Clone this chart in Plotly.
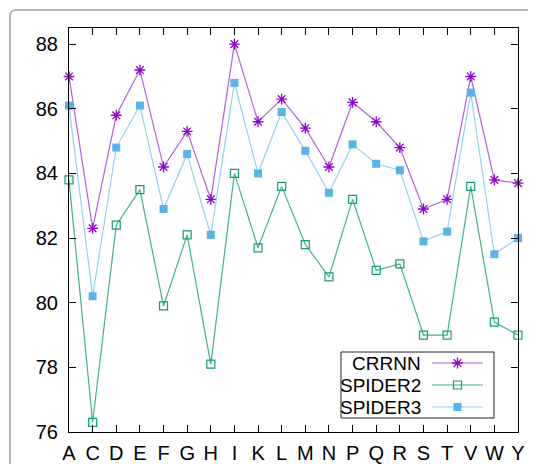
import plotly.graph_objects as go

categories = ["A", "C", "D", "E", "F", "G", "H", "I", "K", "L",
              "M", "N", "P", "Q", "R", "S", "T", "V", "W", "Y"]
crrnn = [87.0, 82.3, 85.8, 87.2, 84.2, 85.3, 83.2, 88.0, 85.6, 86.3,
         85.4, 84.2, 86.2, 85.6, 84.8, 82.9, 83.2, 87.0, 83.8, 83.7]
spider2 = [83.8, 76.3, 82.4, 83.5, 79.9, 82.1, 78.1, 84.0, 81.7, 83.6,
           81.8, 80.8, 83.2, 81.0, 81.2, 79.0, 79.0, 83.6, 79.4, 79.0]
spider3 = [86.1, 80.2, 84.8, 86.1, 82.9, 84.6, 82.1, 86.8, 84.0, 85.9,
           84.7, 83.4, 84.9, 84.3, 84.1, 81.9, 82.2, 86.5, 81.5, 82.0]
y_ticks = [76, 78, 80, 82, 84, 86, 88]
series_names = ["CRRNN", "SPIDER2", "SPIDER3"]

# page has an 8px body margin, so the figure is a bit smaller than the window
OFF = 8
W, H = 536 - OFF, 464 - OFF
PX0, PX1, PY0, PY1 = 69, 518, 28, 432   # plot area in window pixels
L, T = PX0 - OFF, PY0 - OFF
R, B = W - (PX1 - OFF), H - (PY1 - OFF)

styles = [
    dict(line=dict(color="#b060e0", width=1.2),
         marker=dict(symbol="asterisk-open", size=9, color="#9400d3",
                     line=dict(color="#9400d3", width=1.3))),
    dict(line=dict(color="#40b28e", width=1.2),
         marker=dict(symbol="square-open", size=8, color="#119e73",
                     line=dict(color="#119e73", width=1.2))),
    dict(line=dict(color="#92cff0", width=1.2),
         marker=dict(symbol="square", size=8, color="#56b4e9")),
]

fig = go.Figure()
for name, vals, st in zip(series_names, [crrnn, spider2, spider3], styles):
    fig.add_trace(go.Scatter(x=categories, y=vals, name=name,
                             mode="lines+markers", cliponaxis=False,
                             showlegend=False, **st))

# custom gnuplot-style key (text right-aligned, sample on the right),
# drawn on an overlay axis measured in window pixels
key_box = dict(x0=341, x1=494, y0=352, y1=418)
key_rows = [363, 385, 407]
key_text_right = 423
key_line = (432, 483)
fig.add_shape(type="rect", xref="x2", yref="y2", layer="below",
              x0=key_box["x0"], x1=key_box["x1"],
              y0=key_box["y0"], y1=key_box["y1"],
              line=dict(color="#222", width=1), fillcolor="white")
for name, yy, st in zip(series_names, key_rows, styles):
    fig.add_annotation(x=key_text_right, y=yy, xref="x2", yref="y2",
                       text=name, showarrow=False, xanchor="right",
                       yanchor="middle", font=dict(size=19))
    fig.add_trace(go.Scatter(x=[key_line[0], key_line[1]], y=[yy, yy],
                             xaxis="x2", yaxis="y2", mode="lines",
                             line=st["line"], showlegend=False,
                             hoverinfo="skip"))
    fig.add_trace(go.Scatter(x=[(key_line[0] + key_line[1]) / 2], y=[yy],
                             xaxis="x2", yaxis="y2", mode="markers",
                             marker=st["marker"], showlegend=False,
                             hoverinfo="skip"))


def paper_x(p):
    return (p - PX0) / (PX1 - PX0)


def paper_y(p):
    return (PY1 - p) / (PY1 - PY0)


# card frame (rounded top-left corner, running off the right and bottom)
r = 6
path = (f"M {paper_x(10)},{paper_y(490)} L {paper_x(10)},{paper_y(10 + r)} "
        f"Q {paper_x(10)},{paper_y(10)} {paper_x(10 + r)},{paper_y(10)} "
        f"L {paper_x(560)},{paper_y(10)}")
fig.add_shape(type="path", path=path, xref="paper", yref="paper",
              line=dict(color="#a0a0a0", width=1.5), layer="below")

font_main = "Liberation Sans, Arial, sans-serif"
fig.update_layout(
    width=W, height=H,
    margin=dict(l=L, r=R, t=T, b=B, pad=0),
    paper_bgcolor="white", plot_bgcolor="white",
    font=dict(family=font_main, size=20, color="black"),
    showlegend=False,
    xaxis=dict(range=[0, 19], showgrid=False, zeroline=False,
               showline=True, linecolor="black", linewidth=1,
               mirror="ticks", ticks="inside", ticklen=7, tickcolor="black",
               tickmode="array", tickvals=categories, ticktext=categories,
               ticklabelstandoff=3, tickfont=dict(size=20), automargin=False),
    yaxis=dict(range=[76, 88.5], showgrid=False, zeroline=False,
               showline=True, linecolor="black", linewidth=1,
               mirror="ticks", ticks="inside", ticklen=7, tickcolor="black",
               tickvals=y_ticks, ticklabelstandoff=6, tickfont=dict(size=20),
               automargin=False),
    xaxis2=dict(range=[PX0, PX1], overlaying="x", visible=False,
                fixedrange=True),
    yaxis2=dict(range=[PY1, PY0], overlaying="y", visible=False,
                fixedrange=True),
)

fig.write_html("out.html")
